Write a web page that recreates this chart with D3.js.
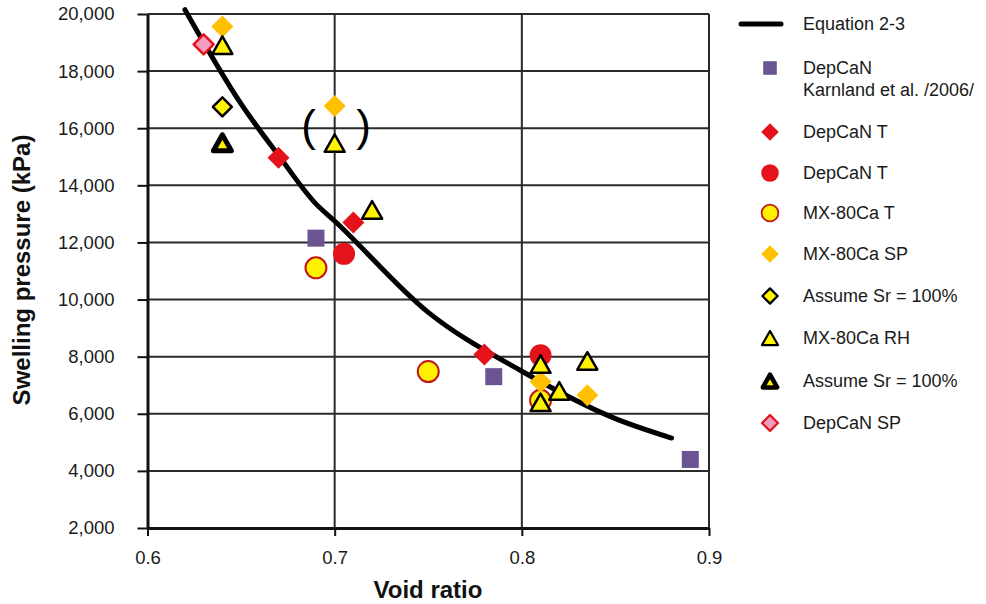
<!DOCTYPE html>
<html><head><meta charset="utf-8">
<script src="https://cdn.jsdelivr.net/npm/d3@7"></script>
<style>
body{margin:0;background:#fff}
svg{display:block}
text{font-family:"Liberation Sans", Arial, sans-serif}
</style>
</head><body>
<svg id="c" width="986" height="604"></svg>
<script>
// ---------- DATA ----------
const xTicks = [0.6, 0.7, 0.8, 0.9];
const yTicks = [2000, 4000, 6000, 8000, 10000, 12000, 14000, 16000, 18000, 20000];

// Equation 2-3 curve (void ratio, swelling pressure kPa)
const equationVoid     = [0.62, 0.65, 0.67, 0.69, 0.70, 0.75, 0.80, 0.85, 0.88];
const equationPressure = [20150, 16850, 15050, 13350, 12750, 9550, 7490, 5830, 5150];

const depcanKarnland = [[0.69, 12150], [0.785, 7300], [0.89, 4400]];
const depcanTDiamond = [[0.67, 14970], [0.71, 12700], [0.78, 8080]];
const depcanTCircle  = [[0.705, 11600], [0.81, 8050]];
const mx80CaT        = [[0.69, 11110], [0.75, 7480], [0.81, 6470]];
const mx80CaSP       = [[0.64, 19560], [0.70, 16780], [0.81, 7120], [0.835, 6650]];
const assumeSrDiamond= [[0.64, 16750]];
const mx80CaRH       = [[0.64, 18910], [0.70, 15480], [0.72, 13140], [0.81, 7740], [0.835, 7850], [0.82, 6800], [0.81, 6400]];
const assumeSrTri    = [[0.64, 15490]];
const depcanSP       = [[0.63, 18940]];

const legendLabels = ["Equation 2-3", "DepCaN\nKarnland et al. /2006/", "DepCaN T", "DepCaN T",
  "MX-80Ca T", "MX-80Ca SP", "Assume Sr = 100%", "MX-80Ca RH", "Assume Sr = 100%", "DepCaN SP"];

const annotations = [{t: "(", x: 0.686, y: 16000}, {t: ")", x: 0.7155, y: 16000}];

// ---------- STYLES ----------
const RED = "#E3121B", PURPLE = "#6A5592", ORANGE = "#FFC000", YELLOW = "#FFF200",
      PINK = "#F19CC0", DARKRED = "#C0161D";

const series = [
  {data: depcanKarnland,  m: "square",   fill: PURPLE, stroke: "none", sw: 0},
  {data: depcanTDiamond,  m: "diamond",  fill: RED,    stroke: "none", sw: 0},
  {data: depcanTCircle,   m: "circle",   fill: RED,    stroke: "none", sw: 0},
  {data: mx80CaT,         m: "circle",   fill: YELLOW, stroke: DARKRED, sw: 2},
  {data: mx80CaSP,        m: "diamond",  fill: ORANGE, stroke: "none", sw: 0},
  {data: assumeSrDiamond, m: "sdiamond", fill: YELLOW, stroke: "#000", sw: 2.5},
  {data: mx80CaRH,        m: "triangle", fill: YELLOW, stroke: "#000", sw: 2.5},
  {data: assumeSrTri,     m: "ttriangle",fill: YELLOW, stroke: "#000", sw: 5},
  {data: depcanSP,        m: "pdiamond", fill: PINK,   stroke: RED,    sw: 2.5}
];

// ---------- SCALES ----------
const x = d3.scaleLinear().domain([0.6, 0.9]).range([147.5, 709]);
const y = d3.scaleLinear().domain([2000, 20000]).range([528, 14]);

const svg = d3.select("#c");

// grid
svg.append("g").selectAll("line").data(yTicks.filter(v => v > 2000)).join("line")
  .attr("x1", x(0.6)).attr("x2", x(0.9)).attr("y1", d => y(d)).attr("y2", d => y(d))
  .attr("stroke", "#2a2a2a").attr("stroke-width", 2);
svg.append("g").selectAll("line").data(xTicks.filter(v => v > 0.6)).join("line")
  .attr("y1", y(2000)).attr("y2", y(20000)).attr("x1", d => x(d)).attr("x2", d => x(d))
  .attr("stroke", "#2a2a2a").attr("stroke-width", 2);

// axes
const ax = svg.append("g").attr("transform", `translate(${x(0.6)},0)`)
  .call(d3.axisLeft(y).tickValues(yTicks).tickSize(10).tickSizeOuter(0).tickPadding(23).tickFormat(d3.format(",")));
const bx = svg.append("g").attr("transform", `translate(0,${y(2000)})`)
  .call(d3.axisBottom(x).tickValues(xTicks).tickSize(8).tickSizeOuter(0).tickPadding(15).tickFormat(d3.format(".1f")));
[ax, bx].forEach(g => {
  g.select(".domain").attr("stroke", "#111").attr("stroke-width", 3);
  g.selectAll(".tick line").attr("stroke", "#111").attr("stroke-width", 2);
  g.selectAll(".tick text").attr("font-size", 18.5).attr("fill", "#1a1a1a")
    .attr("font-family", '"Liberation Sans", Arial, sans-serif');
});

// axis titles
svg.append("text").attr("x", 428).attr("y", 590).attr("dy", "0.35em").attr("text-anchor", "middle")
  .attr("font-size", 24).attr("font-weight", "bold").attr("fill", "#111").text("Void ratio");
svg.append("text").attr("transform", "translate(22,270) rotate(-90)").attr("dy", "0.35em")
  .attr("text-anchor", "middle").attr("font-size", 24).attr("font-weight", "bold").attr("fill", "#111")
  .text("Swelling pressure (kPa)");

// curve
const curvePts = equationVoid.map((v, i) => [v, equationPressure[i]]);
svg.append("path").datum(curvePts)
  .attr("d", d3.line().curve(d3.curveMonotoneX).x(d => x(d[0])).y(d => y(d[1])))
  .attr("fill", "none").attr("stroke", "#000").attr("stroke-width", 5)
  .attr("stroke-linejoin", "round").attr("stroke-linecap", "round");

// marker shapes
function shapePath(m, k) {
  if (m === "diamond")  { const h = 11 * k; return `M0,${-h}L${h},0L0,${h}L${-h},0Z`; }
  if (m === "sdiamond") { const h = 9.5 * k; return `M0,${-h}L${h},0L0,${h}L${-h},0Z`; }
  if (m === "pdiamond") { const h = 10 * k; return `M0,${-h}L${h},0L0,${h}L${-h},0Z`; }
  if (m === "triangle") { const w = 20 * k, h = 17.5 * k; return `M0,${-h/2}L${w/2},${h/2}L${-w/2},${h/2}Z`; }
  if (m === "ttriangle"){ const w = 18 * k, h = 16 * k; return `M0,${-h/2}L${w/2},${h/2}L${-w/2},${h/2}Z`; }
  return null;
}
function drawMarker(g, s, k) {
  let el;
  if (s.m === "square") {
    const a = 17 * k;
    el = g.append("rect").attr("x", -a/2).attr("y", -a/2).attr("width", a).attr("height", a);
  } else if (s.m === "circle") {
    el = g.append("circle").attr("r", (s.sw ? 10.5 : 11) * k);
  } else {
    el = g.append("path").attr("d", shapePath(s.m, k));
  }
  el.attr("fill", s.fill).attr("stroke", s.stroke).attr("stroke-width", s.sw * (k < 1 ? 0.9 : 1))
    .attr("stroke-linejoin", "round");
}

series.forEach(s => {
  s.data.forEach(d => {
    const g = svg.append("g").attr("transform", `translate(${x(d[0])},${y(d[1])})`);
    drawMarker(g, s, 1);
  });
});

// annotations (parentheses)
svg.selectAll("text.ann").data(annotations).join("text").attr("class", "ann")
  .attr("x", d => x(d.x)).attr("y", d => y(d.y)).attr("dy", "0.28em")
  .attr("text-anchor", "middle").attr("font-size", 44).attr("fill", "#000").text(d => d.t);

// legend
const legendRowY = [24, 68, 132, 173, 213, 254, 296, 338, 381, 423];
const lg = svg.append("g");
legendLabels.forEach((lab, i) => {
  const yy = legendRowY[i];
  if (i === 0) {
    lg.append("line").attr("x1", 741).attr("x2", 781).attr("y1", yy).attr("y2", yy)
      .attr("stroke", "#000").attr("stroke-width", 5).attr("stroke-linecap", "round");
  } else {
    const g = lg.append("g").attr("transform", `translate(770,${yy})`);
    drawMarker(g, series[i - 1], 0.8);
  }
  lab.split("\n").forEach((line, j) => {
    lg.append("text").attr("x", 803).attr("y", yy + j * 22).attr("dy", "0.35em")
      .attr("font-size", 18).attr("fill", "#1a1a1a").text(line);
  });
});
</script>
</body></html>
